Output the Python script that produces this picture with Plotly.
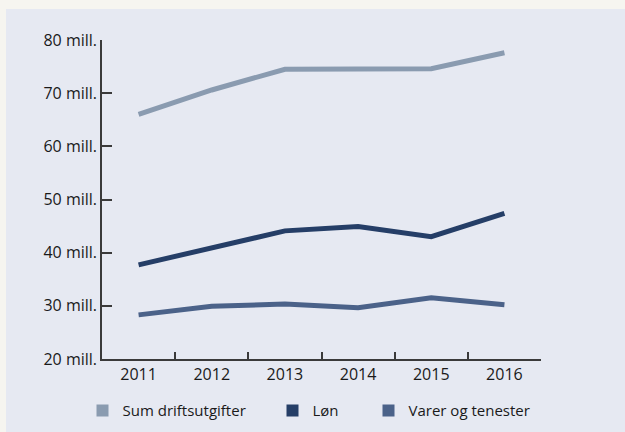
import plotly.graph_objects as go

years = ["2011", "2012", "2013", "2014", "2015", "2016"]
sum_drift = [66.0, 70.6, 74.5, 74.5, 74.6, 77.6]
lon = [37.7, 40.8, 44.1, 44.9, 43.0, 47.4]
varer = [28.3, 29.9, 30.35, 29.65, 31.5, 30.2]

series_names = ["Sum driftsutgifter", "Løn", "Varer og tenester"]
series_colors = ["#8a9bb0", "#253e67", "#4b6289"]
series_values = [sum_drift, lon, varer]

y_tickvals = [20, 30, 40, 50, 60, 70, 80]
y_ticktext = [f"{v} mill." for v in y_tickvals]

FONT = "Open Sans"
FS = 16
LFS = 15
TXT = "#1a1a1a"

L, R, T, B = 102, 84, 40, 73
W, H = 625, 432
pw, ph = W - L - R, H - T - B

def px_to_paper_x(px):
    return (px - L) / pw

def px_to_paper_y(py):
    return (H - B - py) / ph

legend_ids = ["legend", "legend2", "legend3"]
legend_px = [82.5, 272.5, 368.5]
legend_py = 410.7

fig = go.Figure()
for name, color, vals in zip(series_names, series_colors, series_values):
    fig.add_trace(go.Scatter(
        x=years, y=vals, mode="lines", name=name,
        line=dict(color=color, width=5), showlegend=False,
        hoverinfo="x+y+name",
    ))
for name, color, lid in zip(series_names, series_colors, legend_ids):
    fig.add_trace(go.Scatter(
        x=[None], y=[None], mode="markers", name=name,
        marker=dict(symbol="square", size=12, color=color),
        showlegend=True, legend=lid,
    ))

fig.add_shape(type="rect", xref="paper", yref="paper",
              x0=px_to_paper_x(6), x1=px_to_paper_x(640),
              y0=px_to_paper_y(450), y1=px_to_paper_y(9),
              fillcolor="#e6e9f2", line=dict(width=0), layer="below")

legend_common = dict(
    orientation="h", xref="container", yref="container",
    xanchor="left", yanchor="middle",
    bgcolor="rgba(0,0,0,0)", font=dict(family=FONT, size=LFS, color=TXT),
)

layout_legends = {}
for lid, lx in zip(legend_ids, legend_px):
    layout_legends[lid] = dict(legend_common, x=lx / W, y=1 - legend_py / H)

fig.update_layout(
    width=W, height=H,
    margin=dict(l=L, r=R, t=T, b=B),
    paper_bgcolor="#f6f5f0",
    plot_bgcolor="rgba(0,0,0,0)",
    font=dict(family=FONT, size=FS, color=TXT),
    xaxis=dict(
        type="category", range=[-0.5, 5.5], showgrid=False, automargin=False,
        showline=True, linecolor="#3a3a3a", linewidth=1.5,
        ticks="inside", ticklen=7, tickcolor="#3a3a3a", tickwidth=1.5,
        tickson="boundaries", zeroline=False,
        tickfont=dict(family=FONT, size=FS, color=TXT),
    ),
    yaxis=dict(
        range=[20, 80], showgrid=False, zeroline=False, automargin=False,
        showline=True, linecolor="#3a3a3a", linewidth=1.5,
        ticks="inside", ticklen=10, tickcolor="#3a3a3a", tickwidth=1.5,
        tickvals=y_tickvals, ticktext=y_ticktext,
        tickfont=dict(family=FONT, size=FS, color=TXT),
    ),
    **layout_legends,
)

fig.write_html(
    "out.html",
    config={"displayModeBar": False},
    post_script="document.body.style.margin='0px';document.body.style.overflow='hidden';",
)
